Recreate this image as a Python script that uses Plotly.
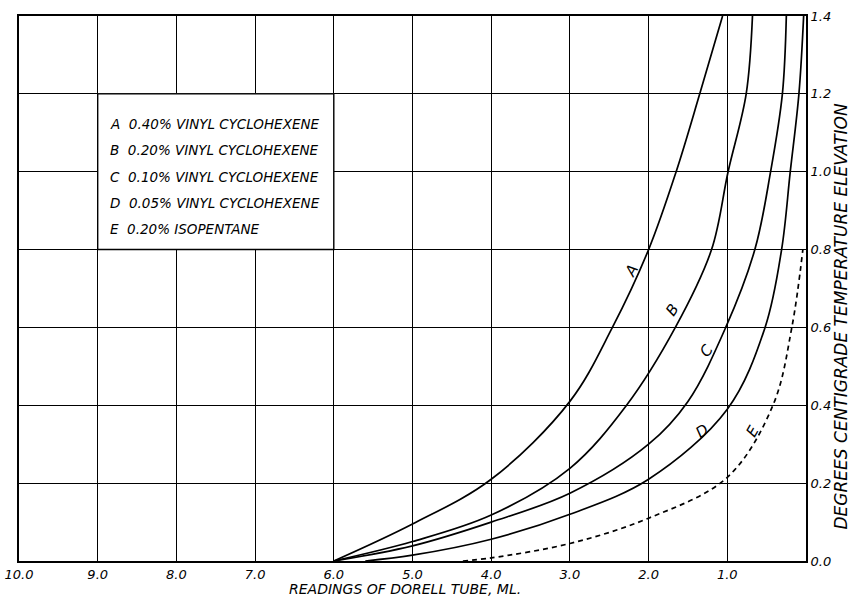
import plotly.graph_objects as go

# ---- data ----
a_x = [6.0, 5.0, 4.0, 3.0, 2.46, 2.0, 1.65, 1.35, 1.06]
a_y = [0.0, 0.095, 0.21, 0.41, 0.60, 0.80, 1.00, 1.20, 1.40]

b_x = [6.0, 5.0, 4.0, 3.0, 2.28, 1.66, 1.20, 0.99, 0.76, 0.68]
b_y = [0.0, 0.05, 0.118, 0.238, 0.40, 0.60, 0.80, 1.00, 1.20, 1.40]

c_x = [6.0, 5.0, 4.0, 3.0, 2.0, 1.50, 1.02, 0.65, 0.45, 0.30, 0.25]
c_y = [0.0, 0.039, 0.10, 0.174, 0.30, 0.41, 0.60, 0.80, 1.00, 1.20, 1.40]

d_x = [5.6, 5.0, 4.0, 3.0, 2.0, 1.0, 0.52, 0.31, 0.20, 0.09, 0.03]
d_y = [0.0, 0.015, 0.056, 0.12, 0.21, 0.39, 0.60, 0.80, 1.00, 1.20, 1.40]

e_x = [4.36, 4.0, 3.0, 2.0, 1.0, 0.42, 0.18, 0.04]
e_y = [0.0, 0.008, 0.045, 0.11, 0.215, 0.40, 0.60, 0.80]

x_ticks = [1, 2, 3, 4, 5, 6, 7, 8, 9, 10]
x_tick_text = ["1.0", "2.0", "3.0", "4.0", "5.0", "6.0", "7.0", "8.0", "9.0", "10.0"]
y_ticks = [0.0, 0.2, 0.4, 0.6, 0.8, 1.0, 1.2, 1.4]
y_tick_text = ["0.0", "0.2", "0.4", "0.6", "0.8", "1.0", "1.2", "1.4"]

legend_lines = [
    "A  0.40% VINYL CYCLOHEXENE",
    "B  0.20% VINYL CYCLOHEXENE",
    "C  0.10% VINYL CYCLOHEXENE",
    "D  0.05% VINYL CYCLOHEXENE",
    "E  0.20% ISOPENTANE",
]
legend_y = [1.122, 1.055, 0.986, 0.919, 0.852]

curve_labels = ["A", "B", "C", "D", "E"]
label_x = [2.22, 1.70, 1.27, 1.32, 0.68]
label_y = [0.745, 0.645, 0.54, 0.335, 0.335]
label_angle = [-60, -55, -55, -35, -60]

FONT = "DejaVu Sans"
INK = "#000000"

fig = go.Figure()
for xs, ys, dash in [(a_x, a_y, "solid"), (b_x, b_y, "solid"), (c_x, c_y, "solid"),
                     (d_x, d_y, "solid"), (e_x, e_y, "5px,4px")]:
    fig.add_trace(go.Scatter(
        x=xs, y=ys, mode="lines",
        line=dict(color=INK, width=1.7, shape="spline", smoothing=1.0, dash=dash),
        showlegend=False, hoverinfo="skip", cliponaxis=True,
    ))

# legend box (white, bordered by grid lines 9.0-6.0, 0.8-1.2)
fig.add_shape(type="rect", xref="x", yref="y", x0=9.0, x1=6.0, y0=0.8, y1=1.2,
              fillcolor="white", line=dict(color=INK, width=1.4), layer="above")

for txt, yy in zip(legend_lines, legend_y):
    fig.add_annotation(x=8.87, y=yy, xref="x", yref="y", text=txt, showarrow=False,
                       xanchor="left", yanchor="middle",
                       font=dict(family=FONT, size=13.5, color=INK, style="italic"))

for t, lx, ly, ang in zip(curve_labels, label_x, label_y, label_angle):
    fig.add_annotation(x=lx, y=ly, xref="x", yref="y", text=t, showarrow=False,
                       textangle=ang,
                       font=dict(family=FONT, size=15, color=INK, style="italic"))

fig.add_annotation(x=0.49, y=-0.067, xref="paper", yref="paper",
                   text="READINGS OF DORELL TUBE, ML.", showarrow=False,
                   xanchor="center", yanchor="bottom", borderpad=0,
                   font=dict(family=FONT, size=14, color=INK, style="italic"))

fig.add_annotation(x=1.044, y=0.448, xref="paper", yref="paper",
                   text="DEGREES CENTIGRADE TEMPERATURE ELEVATION", showarrow=False,
                   textangle=-90, xanchor="center", yanchor="middle",
                   font=dict(family=FONT, size=17, color=INK, style="italic"))

fig.update_xaxes(range=[10, 0], tickvals=x_ticks, ticktext=x_tick_text,
                 showgrid=True, gridcolor=INK, gridwidth=1.3,
                 showline=True, mirror=True, linecolor=INK, linewidth=2,
                 zeroline=False, ticks="", automargin=False,
                 tickfont=dict(family=FONT, size=13, color=INK, style="italic"))
fig.update_yaxes(range=[0, 1.4], side="right", tickvals=y_ticks, ticktext=y_tick_text,
                 showgrid=True, gridcolor=INK, gridwidth=1.3,
                 showline=True, mirror=True, linecolor=INK, linewidth=2,
                 zeroline=False, ticks="", automargin=False,
                 tickfont=dict(family=FONT, size=13, color=INK, style="italic"))

fig.update_layout(width=851, height=599, margin=dict(l=19, r=45, t=16, b=38),
                  plot_bgcolor="white", paper_bgcolor="white")

fig.write_html("out.html")
